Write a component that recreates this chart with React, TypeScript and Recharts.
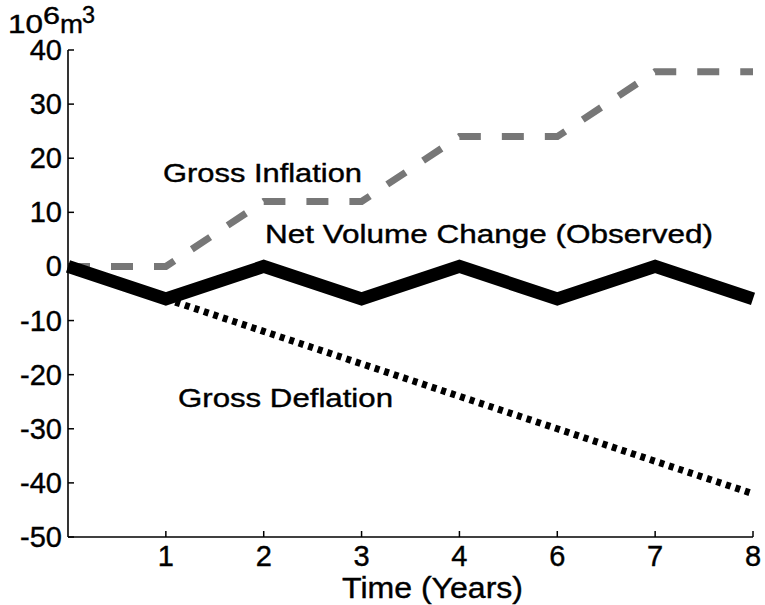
import React from "react";
import { LineChart, Line, XAxis, YAxis } from "recharts";

const timeIndex = [0, 1, 2, 3, 4, 5, 6, 7];
const xTickLabels = ["1", "2", "3", "4", "6", "7", "8"];
const netChange = [0, -6, 0, -6, 0, -6, 0, -6];
const grossInflation = [0, 0, 12, 12, 24, 24, 36, 36];
const grossDeflation: (number | null)[] = [null, -6, -12, -18, -24, -30, -36, -42];
const yTicks = [-50, -40, -30, -20, -10, 0, 10, 20, 30, 40];

const data = timeIndex.map((t, i) => ({
  t,
  net: netChange[i],
  inflation: grossInflation[i],
  deflation: grossDeflation[i],
}));

const xTicks = timeIndex.slice(1);
const FONT = '"Liberation Sans", Arial, Helvetica, sans-serif';
const TICK = 6;
// a thin outline makes the glyphs as heavy as the source's
const ink = { fill: "#000", stroke: "#000", strokeWidth: 0.4 };

function LeftTick({ x, y, payload }: any) {
  return (
    <g>
      <line x1={x} x2={x + TICK} y1={y} y2={y} stroke="#000" strokeWidth={1.5} />
      <text x={x - 6} y={y + 10} textAnchor="end" fontSize={29} fontFamily={FONT} {...ink}>
        {payload.value}
      </text>
    </g>
  );
}

function RightTick({ x, y }: any) {
  return <line x1={x} x2={x - TICK} y1={y} y2={y} stroke="#000" strokeWidth={1.5} />;
}

function BottomTick({ x, y, payload }: any) {
  return (
    <g>
      <line x1={x} x2={x} y1={y} y2={y - TICK} stroke="#000" strokeWidth={1.5} />
      <text x={x} y={y + 29} textAnchor="middle" fontSize={29} fontFamily={FONT} {...ink}>
        {xTickLabels[payload.value - 1]}
      </text>
    </g>
  );
}

function TopTick({ x, y }: any) {
  return <line x1={x} x2={x} y1={y} y2={y + TICK} stroke="#000" strokeWidth={1.5} />;
}

// the source font is drawn wider than Liberation Sans: stretch glyphs, then fit to measured width
function Fit({ x, y, w, size = 26, sx = 1.2, children }: any) {
  return (
    <text
      transform={`translate(${x},${y}) scale(${sx},1)`}
      fontSize={size}
      fontFamily={FONT}
      {...ink}
      textLength={w / sx}
      lengthAdjust="spacingAndGlyphs"
    >
      {children}
    </text>
  );
}

export default function App() {
  const axisLine = { stroke: "#000", strokeWidth: 1.6 };
  return (
    <div style={{ position: "absolute", left: 0, top: 0, width: 765, height: 605, background: "#fff" }}>
      <LineChart
        width={765}
        height={605}
        data={data}
        margin={{ top: 50, right: 12, bottom: 28, left: 0 }}
      >
        <XAxis
          dataKey="t"
          type="number"
          domain={[0, 7]}
          ticks={xTicks}
          tick={<BottomTick />}
          tickLine={false}
          tickSize={0}
          tickMargin={0}
          axisLine={axisLine}
          height={40}
          interval={0}
        />
        <XAxis
          xAxisId="top"
          orientation="top"
          dataKey="t"
          type="number"
          domain={[0, 7]}
          ticks={xTicks}
          tick={<TopTick />}
          tickLine={false}
          tickSize={0}
          tickMargin={0}
          axisLine={axisLine}
          height={0}
          interval={0}
        />
        <YAxis
          type="number"
          domain={[-50, 40]}
          ticks={yTicks}
          tick={<LeftTick />}
          tickLine={false}
          tickSize={0}
          tickMargin={0}
          axisLine={axisLine}
          width={68}
          interval={0}
        />
        <YAxis
          yAxisId="right"
          orientation="right"
          type="number"
          domain={[-50, 40]}
          ticks={yTicks}
          tick={<RightTick />}
          tickLine={false}
          tickSize={0}
          tickMargin={0}
          axisLine={axisLine}
          width={0}
          interval={0}
        />
        <Line
          dataKey="inflation"
          stroke="#777"
          strokeWidth={7}
          strokeDasharray="22 21"
          strokeLinejoin="miter"
          dot={false}
          isAnimationActive={false}
        />
        <Line
          dataKey="deflation"
          stroke="#000"
          strokeWidth={7}
          strokeDasharray="5 5"
          dot={false}
          isAnimationActive={false}
        />
        <Line
          dataKey="net"
          stroke="#000"
          strokeWidth={13}
          strokeLinejoin="miter"
          dot={false}
          isAnimationActive={false}
        />
      </LineChart>
      <svg
        width={765}
        height={605}
        style={{ position: "absolute", left: 0, top: 0, pointerEvents: "none" }}
      >
        <Fit x={8} y={33} w={35} sx={1.15}>10</Fit>
        <Fit x={43} y={24} w={17} size={23} sx={1.15}>6</Fit>
        <Fit x={60} y={33} w={23} sx={1.05}>m</Fit>
        <Fit x={82} y={23} w={13} size={23} sx={1.05}>3</Fit>
        <Fit x={163} y={182} w={199}>Gross Inflation</Fit>
        <Fit x={265} y={243} w={448}>Net Volume Change (Observed)</Fit>
        <Fit x={178} y={407} w={215}>Gross Deflation</Fit>
        <Fit x={342} y={598} w={181} size={30} sx={1}>Time (Years)</Fit>
      </svg>
    </div>
  );
}
